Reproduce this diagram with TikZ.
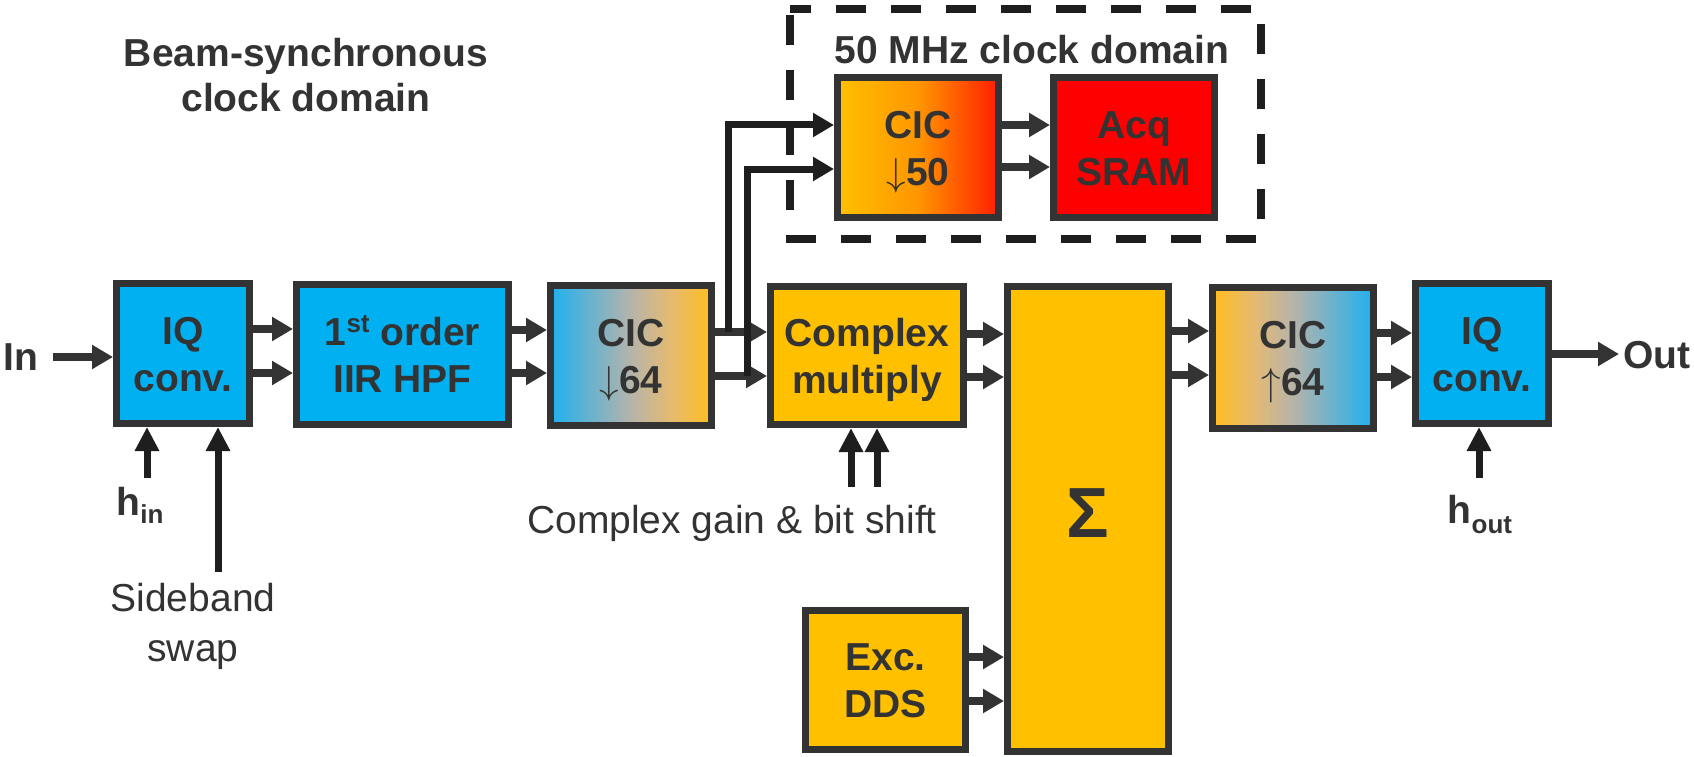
\documentclass[tikz,border=0pt]{standalone}
\usepackage{graphicx}
\usepackage{fontspec}
\setmainfont{Liberation Sans}
\usetikzlibrary{arrows.meta}

\definecolor{ink}{HTML}{333333}
\definecolor{dark}{HTML}{1E1E1E}
\definecolor{pblue}{HTML}{00B0F0}
\definecolor{pgold}{HTML}{FFC000}
\definecolor{pred}{HTML}{FF0000}
\definecolor{gblue}{RGB}{30,176,240}
\definecolor{gmid}{RGB}{182,180,170}
\definecolor{gwarm}{RGB}{230,186,110}
\definecolor{ggold}{RGB}{255,190,30}
\definecolor{porange}{RGB}{255,150,0}
\definecolor{pred2}{RGB}{255,30,0}

% thin rate-change arrows, drawn at 10pt and scaled to the block font size
\newcommand{\decim}{{\fontsize{10}{12}\selectfont\scalebox{3.9}{$\downarrow$}}}
\newcommand{\interp}{{\fontsize{10}{12}\selectfont\scalebox{3.9}{$\uparrow$}}}

% horizontal colour ramps for the CIC stages
\pgfdeclarehorizontalshading{bluegold}{100bp}{color(0bp)=(gblue); color(25bp)=(gblue); color(50bp)=(gmid); color(62.5bp)=(gwarm); color(75bp)=(ggold); color(100bp)=(ggold)}
\pgfdeclarehorizontalshading{goldblue}{100bp}{color(0bp)=(ggold); color(25bp)=(ggold); color(37.5bp)=(gwarm); color(50bp)=(gmid); color(75bp)=(gblue); color(100bp)=(gblue)}
\pgfdeclarehorizontalshading{goldred}{100bp}{color(0bp)=(pgold); color(25bp)=(pgold); color(50bp)=(porange); color(75bp)=(pred2); color(100bp)=(pred2)}

\tikzset{
  blk/.style={draw=ink, line width=7pt, inner sep=0pt, align=center, text=ink,
    font=\fontsize{39}{47}\selectfont\bfseries, text height=75pt, text depth=0pt},
  sig/.style={draw=ink, line width=8pt, -{Triangle[length=21pt,width=23pt]}},
  ctl/.style={draw=dark, line width=7pt, -{Triangle[length=24pt,width=23pt]}},
  branch/.style={draw=dark, line width=7pt, -{Triangle[length=21pt,width=23pt]}},
  lbl/.style={text=ink, inner sep=0pt, font=\fontsize{39}{47}\selectfont\bfseries},
  plain/.style={text=ink, inner sep=0pt, font=\fontsize{39}{50}\selectfont},
  dashbox/.style={draw=dark, line width=8pt, dash pattern=on 30pt off 25pt, dash phase=-6pt},
}

\begin{document}
\begin{tikzpicture}[x=1pt, y=-1pt]
\fill[white] (0,0) rectangle (1694,757);
\useasboundingbox (0,0) rectangle (1694,757);

% clock domain captions
\node[lbl, align=center, text height=73pt, text depth=0pt,
      font=\fontsize{39}{45}\selectfont\bfseries] (beam) at (306,75.5) {Beam-synchronous\\clock domain};
\draw[dashbox] (790,9) rectangle (1261,239);
\node[lbl, anchor=base] (mhz) at (1032,64) {50 MHz clock domain};

% processing blocks
\node[blk, fill=pblue, minimum width=133pt, minimum height=140pt] (iqin) at (183,353.5) {IQ\\conv.};
\node[blk, fill=pblue, minimum width=212pt, minimum height=140pt] (hpf) at (402.5,354.5)
  {1\raisebox{13pt}{\fontsize{26}{26}\selectfont st} order\\IIR HPF};
\node[blk, shade, shading=bluegold, minimum width=161pt, minimum height=140pt] (cicd) at (631,355.5)
  {CIC\\\decim64};
\node[blk, fill=pgold, minimum width=193pt, minimum height=138pt] (cmul) at (867,355.5) {Complex\\multiply};
\node[blk, fill=pgold, minimum width=161pt, minimum height=465pt,
      font=\fontsize{71}{80}\selectfont\bfseries, text height=51pt, text depth=14pt] (sigma) at (1088,519) {Σ};
\node[blk, fill=pgold, minimum width=160pt, minimum height=139pt] (dds) at (885.5,680) {Exc.\\DDS};
\node[blk, shade, shading=goldblue, minimum width=161pt, minimum height=141pt] (cicu) at (1293,358)
  {CIC\\\interp64};
\node[blk, fill=pblue, minimum width=133pt, minimum height=140pt] (iqout) at (1482,353.5) {IQ\\conv.};
\node[blk, shade, shading=goldred, minimum width=161pt, minimum height=140pt] (cic50) at (918,147.5)
  {CIC\\\decim50};
\node[blk, fill=pred, minimum width=161pt, minimum height=140pt] (acq) at (1134,147.5) {Acq\\SRAM};

% terminal and control labels
\node[lbl, anchor=base] (in) at (21,370) {In};
\node[lbl, anchor=base] (out) at (1657,368) {Out};
\node[lbl, anchor=base] (hin) at (140,515) {h\raisebox{-8pt}{\fontsize{26}{26}\selectfont in}};
\node[lbl, anchor=base] (hout) at (1480,523) {h\raisebox{-10pt}{\fontsize{26}{26}\selectfont out}};
\node[plain, anchor=base] (gain) at (732,533) {Complex gain \& bit shift};
\node[plain, align=center, text height=78pt, text depth=0pt] (side) at (193,622) {Sideband\\swap};

% free ends of the connectors
\coordinate (inpt) at (53,357);
\coordinate (outpt) at (1619,354);
\coordinate (hinpt) at (147,478);
\coordinate (sbpt) at (218,572);
\coordinate (gpt1) at (851,487);
\coordinate (gpt2) at (877,487);
\coordinate (houtpt) at (1479,478);
\coordinate (br1) at (728,332);
\coordinate (br2) at (747,376);

% main I/Q signal path
\draw[sig] (inpt) -- (iqin.west |- inpt);
\draw[sig] (iqin.east |- 0,329) -- (hpf.west |- 0,329);
\draw[sig] (iqin.east |- 0,373) -- (hpf.west |- 0,373);
\draw[sig] (hpf.east |- 0,330) -- (cicd.west |- 0,330);
\draw[sig] (hpf.east |- 0,373) -- (cicd.west |- 0,373);
\draw[sig] (cicd.east |- 0,332) -- (cmul.west |- 0,332);
\draw[sig] (cicd.east |- 0,376) -- (cmul.west |- 0,376);
\draw[sig] (cmul.east |- 0,334) -- (sigma.west |- 0,334);
\draw[sig] (cmul.east |- 0,377) -- (sigma.west |- 0,377);
\draw[sig] (dds.east |- 0,657) -- (sigma.west |- 0,657);
\draw[sig] (dds.east |- 0,701) -- (sigma.west |- 0,701);
\draw[sig] (sigma.east |- 0,331) -- (cicu.west |- 0,331);
\draw[sig] (sigma.east |- 0,375) -- (cicu.west |- 0,375);
\draw[sig] (cicu.east |- 0,333) -- (iqout.west |- 0,333);
\draw[sig] (cicu.east |- 0,377) -- (iqout.west |- 0,377);
\draw[sig] (iqout.east |- outpt) -- (outpt);

% acquisition path
\draw[sig] (cic50.east |- 0,125) -- (acq.west |- 0,125);
\draw[sig] (cic50.east |- 0,167) -- (acq.west |- 0,167);
\draw[branch] (br1) -- (br1 |- 0,125) -- (cic50.west |- 0,125);
\draw[branch] (br2) -- (br2 |- 0,169) -- (cic50.west |- 0,169);

% control inputs
\draw[ctl] (hinpt) -- (hinpt |- iqin.south);
\draw[ctl] (sbpt) -- (sbpt |- iqin.south);
\draw[ctl] (gpt1) -- (gpt1 |- cmul.south);
\draw[ctl] (gpt2) -- (gpt2 |- cmul.south);
\draw[ctl] (houtpt) -- (houtpt |- iqout.south);
\end{tikzpicture}
\end{document}
